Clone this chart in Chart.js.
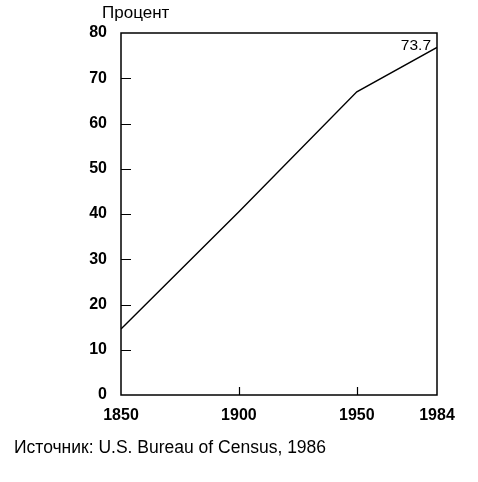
<!DOCTYPE html>
<html>
<head>
<meta charset="utf-8">
<script src="https://cdn.jsdelivr.net/npm/chart.js@4/dist/chart.umd.min.js"></script>
<style>
  html, body { margin: 0; padding: 0; background: #fff; }
  #wrap { width: 478px; height: 482px; }
</style>
</head>
<body>
<div id="wrap"><canvas id="urbanChart"></canvas></div>
<script>
const years = [1850, 1900, 1950, 1984];
const percent = [14.6, 40.5, 67, 76.8];
const yearTicks = [1850, 1900, 1950, 1984];
const percentTicks = [0, 10, 20, 30, 40, 50, 60, 70, 80];
const yTitle = "Процент";
const endLabel = "73.7";
const sourceText = "Источник: U.S. Bureau of Census, 1986";

const FONT = "'Liberation Sans', Arial, sans-serif";

// frame, inward ticks and free texts
const decorations = {
  id: "decorations",
  afterDraw(chart) {
    const ctx = chart.ctx;
    const a = chart.chartArea;
    const xs = chart.scales.x;
    const ys = chart.scales.y;
    ctx.save();
    ctx.strokeStyle = "#000";
    ctx.lineWidth = 1.5;
    ctx.strokeRect(a.left, a.top, a.right - a.left, a.bottom - a.top);

    ctx.lineWidth = 1.2;
    ctx.beginPath();
    percentTicks.slice(1, -1).forEach(v => {
      const y = Math.round(ys.getPixelForValue(v)) + 0.5;
      ctx.moveTo(a.left, y);
      ctx.lineTo(a.left + 10, y);
    });
    yearTicks.slice(1, -1).forEach(v => {
      const x = Math.round(xs.getPixelForValue(v)) + 0.5;
      ctx.moveTo(x, a.bottom);
      ctx.lineTo(x, a.bottom - 8);
    });
    ctx.stroke();

    ctx.fillStyle = "#000";
    ctx.textBaseline = "middle";
    ctx.textAlign = "left";
    ctx.font = "17px " + FONT;
    ctx.fillText(yTitle, 102, 13);
    ctx.font = "17.5px " + FONT;
    ctx.fillText(sourceText, 14, 448);

    const meta = chart.getDatasetMeta(0);
    const last = meta.data[meta.data.length - 1];
    ctx.font = "15.5px " + FONT;
    ctx.textAlign = "right";
    ctx.textBaseline = "alphabetic";
    ctx.fillText(endLabel, last.x - 6, last.y + 3);
    ctx.restore();
  }
};

new Chart(document.getElementById("urbanChart"), {
  type: "line",
  data: {
    datasets: [{
      data: years.map((y, i) => ({ x: y, y: percent[i] })),
      borderColor: "#000",
      borderWidth: 1.4,
      pointRadius: 0,
      tension: 0,
      fill: false
    }]
  },
  options: {
    responsive: true,
    maintainAspectRatio: false,
    animation: false,
    layout: { padding: { top: 33, right: 41, left: 0, bottom: 0 } },
    plugins: {
      legend: { display: false },
      tooltip: { enabled: false }
    },
    scales: {
      x: {
        type: "linear",
        min: 1850,
        max: 1984,
        afterBuildTicks(scale) {
          scale.ticks = yearTicks.map(v => ({ value: v }));
        },
        afterFit(scale) { scale.height = 87; },
        grid: { display: false, drawTicks: false },
        border: { display: false },
        ticks: {
          color: "#000",
          font: { family: FONT, size: 16, weight: "bold" },
          padding: 11,
          maxRotation: 0,
          autoSkip: false,
          callback: v => String(v)
        }
      },
      y: {
        min: 0,
        max: 80,
        afterBuildTicks(scale) {
          scale.ticks = percentTicks.map(v => ({ value: v }));
        },
        afterFit(scale) { scale.width = 121; },
        grid: { display: false, drawTicks: false },
        border: { display: false },
        ticks: {
          color: "#000",
          font: { family: FONT, size: 16, weight: "bold" },
          padding: 14,
          callback: v => String(v)
        }
      }
    }
  },
  plugins: [decorations]
});
</script>
</body>
</html>
